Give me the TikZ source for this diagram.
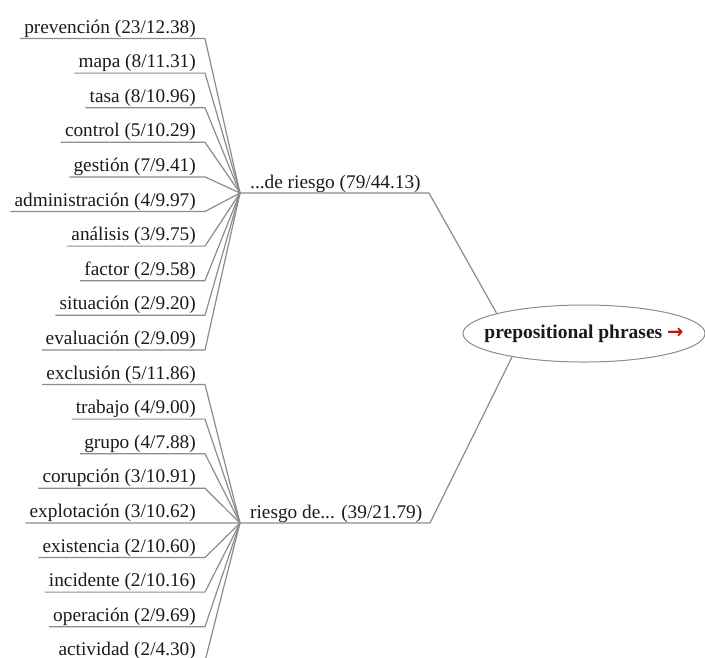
\documentclass[tikz,border=0pt]{standalone}
\usepackage{fontspec}
\setmainfont{Liberation Serif}
\newfontfamily\arrowfont{DejaVu Sans}
\usetikzlibrary{shapes.geometric}
\definecolor{linegray}{HTML}{8C8C8C}
\definecolor{txt}{HTML}{1A1A1A}
\definecolor{arrowred}{HTML}{C41010}
\begin{document}
\begin{tikzpicture}[x=1pt,y=-1pt,
  conn/.style={draw=linegray,line width=1.2pt,line join=round},
  leaf/.style={anchor=base east,inner sep=0pt,text=txt,font=\fontsize{19.3}{22}\selectfont},
  mid/.style={anchor=base west,inner sep=0pt,text=txt,font=\fontsize{19.3}{22}\selectfont},
  root/.style={ellipse,draw=linegray,line width=1pt,minimum width=242pt,minimum height=57pt,inner xsep=-15pt,inner ysep=0pt,text=txt,font=\bfseries\fontsize{19.5}{22}\selectfont}]
\useasboundingbox (0,0) rectangle (705,657);
\coordinate (h1) at (240,193);
\coordinate (h2) at (240,523);
\node[root] (pp) at (584,333.5) {prepositional phrases {\arrowfont\bfseries\textcolor{arrowred}{→}}};
\node[mid] (m1) at (250,188) {...de riesgo (79/44.13)};
\node[mid] (m2) at (250,518) {riesgo de... (39/21.79)};
\coordinate (e1) at (429,193);
\coordinate (e2) at (430,523);
\draw[conn] (h1) -- (e1) -- (pp.167);
\draw[conn] (h2) -- (e2) -- (pp.198);
\foreach \t [count=\i] in {prevención (23/12.38),mapa (8/11.31),tasa (8/10.96),control (5/10.29),gestión (7/9.41),administración (4/9.97),análisis (3/9.75),factor (2/9.58),situación (2/9.20),evaluación (2/9.09),exclusión (5/11.86),trabajo (4/9.00),grupo (4/7.88),corupción (3/10.91),explotación (3/10.62),existencia (2/10.60),incidente (2/10.16),operación (2/9.69),actividad (2/4.30)}{
  \pgfmathsetmacro\yy{38.5+(\i-1)*34.6}
  \ifnum\i<11 \def\hub{h1}\else\def\hub{h2}\fi
  \node[leaf] (l\i) at (196,\yy-5.5) {\t};
  \coordinate (u\i) at (205,\yy);
  \draw[conn] ([xshift=-4pt]l\i.base west |- u\i) -- (u\i) -- (\hub);
}
\end{tikzpicture}
\end{document}
